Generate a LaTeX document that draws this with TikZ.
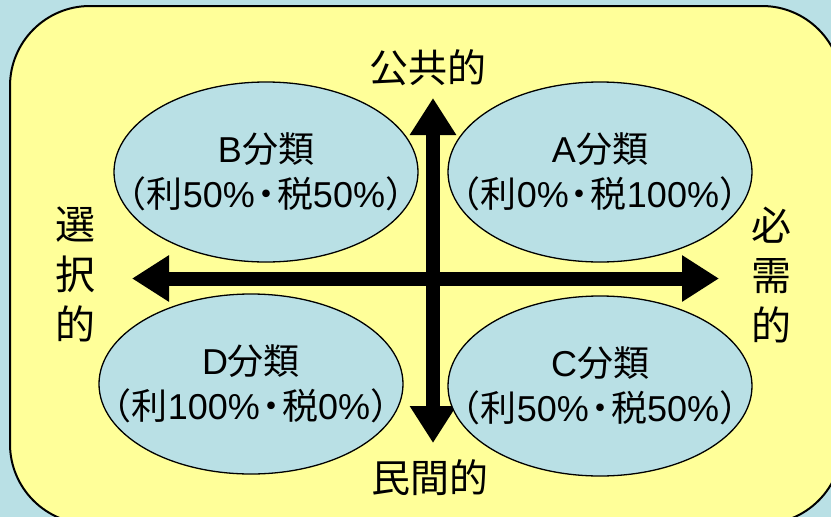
\documentclass[tikz,border=0pt]{standalone}
\usepackage{fontspec}
\setmainfont{Liberation Sans}
\newfontfamily\cjk{Noto Sans CJK JP}
\newfontfamily\cjkp{Noto Sans CJK JP}[RawFeature={+palt}]
\usetikzlibrary{arrows.meta,shapes.geometric}
\newcommand\jp[1]{{\cjk #1}}
\newcommand\jdot{\kern2pt{\cjkp ・}\kern2pt}
\definecolor{bgblue}{RGB}{185,224,229}
\definecolor{paleyellow}{RGB}{255,255,153}
\tikzset{
  quadtext/.style={inner sep=0pt,align=center,
    font=\fontsize{36}{45}\selectfont},
  quadshape/.style={draw=black,line width=1.3pt,fill=bgblue},
  axisarrow/.style={line width=14pt,
    {Triangle[length=37pt,width=44pt]}-{Triangle[length=37pt,width=44pt]}},
  axislabel/.style={inner sep=0pt,font=\cjk\fontsize{39}{50}\selectfont},
  sidelabel/.style={inner sep=0pt,align=center,font=\cjk\fontsize{40}{50}\selectfont}
}
\begin{document}
\begin{tikzpicture}[x=1pt,y=-1pt]
\useasboundingbox (0,0) rectangle (831,517);
\clip (0,0) rectangle (831,517);
\fill[bgblue] (0,0) rectangle (831,517);
\draw[fill=paleyellow,line width=2pt,rounded corners=80pt] (10,6) rectangle (842,524);
% axes
\coordinate (top) at (433,98);
\coordinate (bot) at (433,443);
\coordinate (lft) at (132,278.5);
\coordinate (rgt) at (719,278.5);
\draw[axisarrow] (top) -- (bot);
\draw[axisarrow] (lft) -- (rgt);
% quadrants
\coordinate (Bc) at (266,172);
\coordinate (Ac) at (600,172);
\coordinate (Dc) at (251,384);
\coordinate (Cc) at (600,386);
\foreach \c in {Bc,Ac,Dc,Cc}
  \draw[quadshape] (\c) ellipse [x radius=152pt, y radius=90pt];
\node[quadtext] (B) at (Bc) {B\jp{分類}\\\jp{（利}50\%\jdot\jp{税}50\%\jp{）}};
\node[quadtext] (A) at (Ac) {A\jp{分類}\\\jp{（利}0\%\jdot\jp{税}100\%\jp{）}};
\node[quadtext] (D) at (Dc) {D\jp{分類}\\\jp{（利}100\%\jdot\jp{税}0\%\jp{）}};
\node[quadtext] (C) at (Cc) {C\jp{分類}\\\jp{（利}50\%\jdot\jp{税}50\%\jp{）}};
% labels
\node[axislabel] (pub) at (428,68) {公共的};
\node[axislabel] (priv) at (430,478) {民間的};
\node[sidelabel] (sel) at (75,274) {選\\択\\的};
\node[sidelabel] (nec) at (771,275) {必\\需\\的};
\end{tikzpicture}
\end{document}
